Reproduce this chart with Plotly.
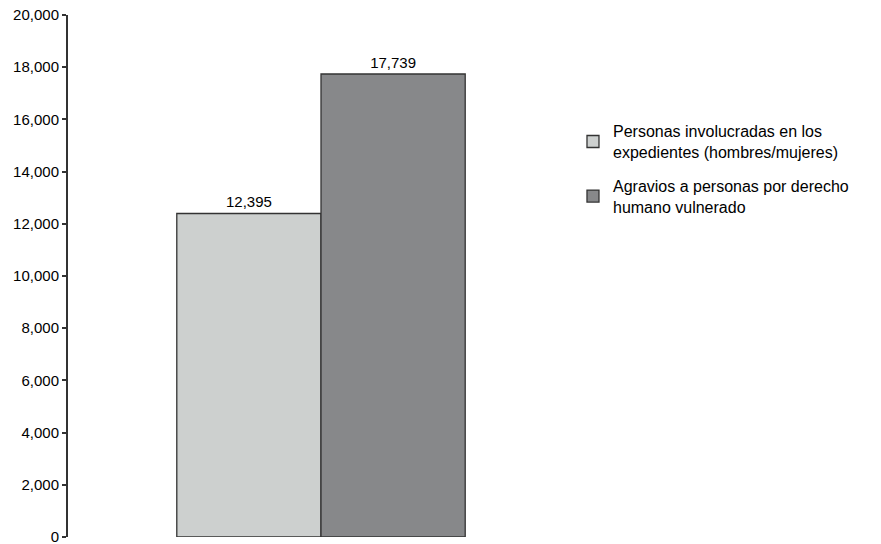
import plotly.graph_objects as go

series_names = ["Personas involucradas en los<br>expedientes (hombres/mujeres)",
                "Agravios a personas por derecho<br>humano vulnerado"]
values = [12395, 17739]
colors = ["#cdd0cf", "#87888a"]
category = [""]
y_ticks = list(range(0, 20001, 2000))

fig = go.Figure()
for i, (name, v, c) in enumerate(zip(series_names, values, colors)):
    fig.add_trace(go.Bar(
        x=category, y=[v], name=name, legendgroup=f"g{i}",
        marker=dict(color=c, line=dict(color="#333333", width=1.3)),
        text=[f"{v:,}"], textposition="outside",
        textfont=dict(size=15, color="#000000"),
        cliponaxis=False,
    ))

fig.update_layout(
    width=881, height=544,
    margin=dict(l=68, r=307, t=15, b=7),
    paper_bgcolor="white", plot_bgcolor="white",
    barmode="group", bargap=0.43, bargroupgap=0,
    font=dict(family="Liberation Sans, Arial, sans-serif", size=15, color="#000000"),
    showlegend=True,
    legend=dict(x=0.998, y=0.81, xanchor="left", yanchor="top",
                font=dict(size=16), tracegroupgap=10, itemwidth=30),
    xaxis=dict(showline=False, showticklabels=False, ticks="", showgrid=False,
               zeroline=False, automargin=False),
    yaxis=dict(range=[0, 20000], tickvals=y_ticks, tickformat=",",
               showline=True, linecolor="#333333", linewidth=2,
               ticks="outside", ticklen=4, tickcolor="#333333", tickwidth=1.5,
               ticklabeloverflow="allow", automargin=False,
               showgrid=False, zeroline=False),
)

fig.write_html("out.html", config={"displayModeBar": False},
               post_script="document.body.style.margin='0px';")
